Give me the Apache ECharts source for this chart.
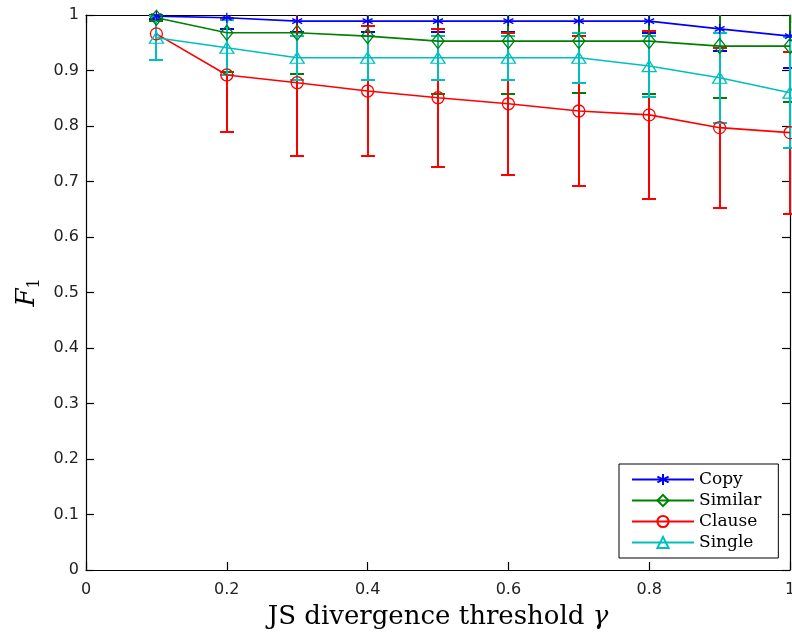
<!DOCTYPE html>
<html>
<head>
<meta charset="utf-8">
<script src="https://cdn.jsdelivr.net/npm/echarts@6/dist/echarts.min.js"></script>
<style>
  html, body { margin: 0; padding: 0; background: #fff; }
  #chart { width: 792px; height: 634px; }
</style>
</head>
<body>
<div id="chart"></div>
<script>
// JS divergence thresholds on the x axis
const thresholds = [0.1, 0.2, 0.3, 0.4, 0.5, 0.6, 0.7, 0.8, 0.9, 1.0];

// Mean F1 per method and the half-length of each error bar
const copyMean    = [0.998, 0.995, 0.989, 0.989, 0.989, 0.989, 0.989, 0.989, 0.975, 0.962];
const copyErr     = [0.005, 0.020, 0.020, 0.020, 0.020, 0.020, 0.021, 0.021, 0.040, 0.057];
const similarMean = [0.995, 0.968, 0.968, 0.962, 0.953, 0.953, 0.953, 0.953, 0.944, 0.944];
const similarErr  = [0.005, 0.070, 0.074, 0.080, 0.095, 0.095, 0.093, 0.095, 0.093, 0.100];
const clauseMean  = [0.966, 0.892, 0.878, 0.863, 0.851, 0.840, 0.827, 0.820, 0.797, 0.788];
const clauseErr   = [0.047, 0.102, 0.132, 0.117, 0.124, 0.128, 0.135, 0.151, 0.144, 0.146];
const singleMean  = [0.959, 0.941, 0.923, 0.923, 0.923, 0.923, 0.923, 0.908, 0.887, 0.860];
const singleErr   = [0.040, 0.050, 0.040, 0.040, 0.040, 0.040, 0.045, 0.055, 0.081, 0.100];

// Tick labels
const xTickLabels = ['0', '0.2', '0.4', '0.6', '0.8', '1'];
const yTickLabels = ['0', '0.1', '0.2', '0.3', '0.4', '0.5', '0.6', '0.7', '0.8', '0.9', '1'];

const methods = [
  { name: 'Copy',    mean: copyMean,    err: copyErr,    color: '#0000ff',
    symbol: 'path://M5,0L5,10M0.7,2.5L9.3,7.5M0.7,7.5L9.3,2.5', size: [10, 10] },
  { name: 'Similar', mean: similarMean, err: similarErr, color: '#008000',
    symbol: 'diamond', size: [12, 15] },
  { name: 'Clause',  mean: clauseMean,  err: clauseErr,  color: '#ff0000',
    symbol: 'circle', size: 12 },
  { name: 'Single',  mean: singleMean,  err: singleErr,  color: '#00bfbf',
    symbol: 'triangle', size: [14, 11] }
];

const CAP = 7;

// Vertical bar from low to high with horizontal caps, clipped to the plot box
function errorBarRenderer(color) {
  return function (params, api) {
    const x = Math.round(api.coord([api.value(0), 0])[0]);
    const yLow = Math.round(api.coord([api.value(0), api.value(1)])[1]);
    const yHigh = Math.round(api.coord([api.value(0), api.value(2)])[1]);
    const cs = params.coordSys;
    const top = cs.y, bottom = cs.y + cs.height;
    const clamp = v => Math.max(top, Math.min(bottom, v));
    const style = { stroke: color, lineWidth: 2, fill: null };
    const children = [{
      type: 'line',
      shape: { x1: x, y1: clamp(yHigh), x2: x, y2: clamp(yLow) },
      style: style
    }];
    [yLow, yHigh].forEach(function (y) {
      if (y >= top && y <= bottom) {
        children.push({
          type: 'line',
          shape: { x1: x - CAP, y1: y, x2: x + CAP, y2: y },
          style: style
        });
      }
    });
    return { type: 'group', children: children };
  };
}

const series = [];
methods.forEach(function (m) {
  series.push({
    name: m.name + ' error',
    type: 'custom',
    color: m.color,
    itemStyle: { color: m.color, borderColor: m.color },
    renderItem: errorBarRenderer(m.color),
    data: thresholds.map((t, i) => [t, m.mean[i] - m.err[i], m.mean[i] + m.err[i]]),
    encode: { x: 0, y: [1, 2] },
    silent: true
  });
  series.push({
    name: m.name,
    type: 'line',
    data: thresholds.map((t, i) => [t, m.mean[i]]),
    color: m.color,
    symbol: m.symbol,
    symbolSize: m.size,
    showAllSymbol: true,
    lineStyle: { color: m.color, width: 1.6 },
    itemStyle: { color: 'transparent', borderColor: m.color, borderWidth: 1.3 },
    emphasis: { disabled: true }
  });
});

const tickFont = { fontFamily: 'DejaVu Sans', fontSize: 16, color: '#222' };
const axisLineStyle = { color: '#000', width: 1.2 };

const option = {
  animation: false,
  backgroundColor: '#fff',
  grid: { left: 86, right: 2, top: 15, bottom: 64, containLabel: false, outerBoundsMode: 'none' },
  legend: {
    data: methods.map(m => m.name),
    orient: 'vertical',
    left: 619,
    top: 464,
    itemWidth: 62,
    itemHeight: 14,
    itemGap: 4,
    padding: [7, 17, 7, 12],
    borderColor: '#000',
    borderWidth: 1,
    borderRadius: 0,
    backgroundColor: '#fff',
    selectedMode: false,
    textStyle: { fontFamily: 'DejaVu Serif', fontSize: 17, color: '#000', lineHeight: 14 }
  },
  xAxis: [{
    type: 'value', min: 0, max: 1, interval: 0.2,
    position: 'bottom',
    name: 'JS divergence threshold {g|γ}',
    nameLocation: 'middle',
    nameGap: 34,
    nameTextStyle: {
      fontFamily: 'DejaVu Serif', fontSize: 26, color: '#000',
      rich: { g: { fontFamily: 'DejaVu Serif', fontStyle: 'italic', fontSize: 26, color: '#000' } }
    },
    axisLine: { show: true, onZero: false, lineStyle: axisLineStyle },
    axisTick: { show: true, inside: true, length: 8, lineStyle: axisLineStyle },
    axisLabel: Object.assign({ margin: 12, formatter: (v, i) => xTickLabels[i] }, tickFont),
    splitLine: { show: false }
  }, {
    type: 'value', min: 0, max: 1, interval: 0.2,
    position: 'top',
    axisLine: { show: true, onZero: false, lineStyle: axisLineStyle },
    axisTick: { show: true, inside: true, length: 8, lineStyle: axisLineStyle },
    axisLabel: { show: false },
    splitLine: { show: false }
  }],
  yAxis: [{
    type: 'value', min: 0, max: 1, interval: 0.1,
    position: 'left',
    name: '{f|F}{s|1}',
    nameLocation: 'middle',
    nameRotate: 90,
    nameGap: 38,
    nameTextStyle: {
      rich: {
        f: { fontFamily: 'DejaVu Serif', fontStyle: 'italic', fontSize: 26, color: '#000', lineHeight: 30, verticalAlign: 'middle' },
        s: { fontFamily: 'DejaVu Serif', fontSize: 16, color: '#000', lineHeight: 30, verticalAlign: 'bottom' }
      }
    },
    axisLine: { show: true, onZero: false, lineStyle: axisLineStyle },
    axisTick: { show: true, inside: true, length: 8, lineStyle: axisLineStyle },
    axisLabel: Object.assign({ margin: 7, formatter: (v, i) => yTickLabels[i] }, tickFont),
    splitLine: { show: false }
  }, {
    type: 'value', min: 0, max: 1, interval: 0.1,
    position: 'right',
    axisLine: { show: true, onZero: false, lineStyle: axisLineStyle },
    axisTick: { show: true, inside: true, length: 8, lineStyle: axisLineStyle },
    axisLabel: { show: false },
    splitLine: { show: false }
  }],
  series: series
};

const chart = echarts.init(document.getElementById('chart'), null, { renderer: 'canvas' });
chart.setOption(option);
</script>
</body>
</html>
